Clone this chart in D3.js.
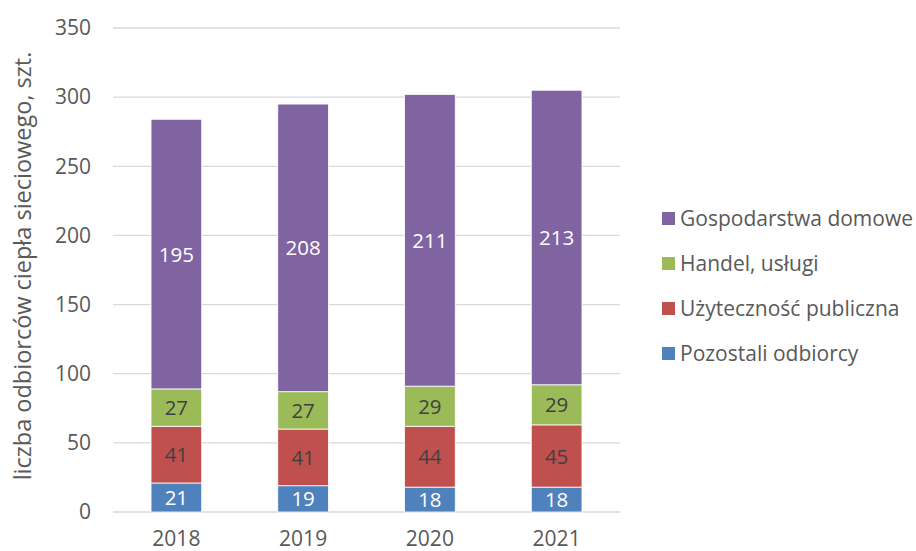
<!DOCTYPE html>
<html>
<head>
<meta charset="utf-8">
<script src="https://cdn.jsdelivr.net/npm/d3@7"></script>
<style>
  body { margin: 0; background: #fff; }
  text { font-family: "Open Sans", "Noto Sans", sans-serif; fill: #595959; }
</style>
</head>
<body>
<div id="chart"></div>
<script>
const years = ["2018", "2019", "2020", "2021"];
const seriesNames = ["Pozostali odbiorcy", "Użyteczność publiczna", "Handel, usługi", "Gospodarstwa domowe"];
const seriesColors = ["#4f81bd", "#c0504d", "#9bbb59", "#8064a2"];
const labelColors = ["#ffffff", "#404040", "#404040", "#ffffff"];
const pozostali = [21, 19, 18, 18];
const uzytecznosc = [41, 41, 44, 45];
const handel = [27, 27, 29, 29];
const gospodarstwa = [195, 208, 211, 213];
const yTicks = [0, 50, 100, 150, 200, 250, 300, 350];

const width = 916, height = 551;
const margin = { left: 113, right: 296, top: 28, bottom: 39 };

const svg = d3.select("#chart").append("svg")
    .attr("width", width)
    .attr("height", height);

const x = d3.scaleBand().domain(years)
    .range([margin.left, width - margin.right])
    .paddingInner(0.6).paddingOuter(0.3);
const y = d3.scaleLinear().domain([0, 350])
    .range([height - margin.bottom, margin.top]);

// gridlines
svg.append("g").selectAll("line").data(yTicks).join("line")
    .attr("x1", margin.left).attr("x2", width - margin.right)
    .attr("y1", d => y(d)).attr("y2", d => y(d))
    .attr("stroke", "#d9d9d9").attr("stroke-width", 1.3);

// y tick labels
svg.append("g").selectAll("text").data(yTicks).join("text")
    .attr("x", 91).attr("y", d => y(d))
    .attr("dy", "0.35em").attr("text-anchor", "end")
    .style("font-size", "21px")
    .text(d => d);

// x labels
svg.append("g").selectAll("text").data(years).join("text")
    .attr("x", d => x(d) + x.bandwidth() / 2).attr("y", 546)
    .attr("text-anchor", "middle")
    .style("font-size", "21px")
    .text(d => d);

const rows = years.map((yr, i) => ({
    year: yr,
    "Pozostali odbiorcy": pozostali[i],
    "Użyteczność publiczna": uzytecznosc[i],
    "Handel, usługi": handel[i],
    "Gospodarstwa domowe": gospodarstwa[i]
}));
const stacked = d3.stack().keys(seriesNames)(rows);

const layers = svg.append("g").selectAll("g").data(stacked).join("g")
    .attr("fill", (d, i) => seriesColors[i]);

layers.selectAll("rect").data(d => d).join("rect")
    .attr("x", d => x(d.data.year))
    .attr("width", x.bandwidth())
    .attr("y", d => y(d[1]))
    .attr("height", d => y(d[0]) - y(d[1]))
    .attr("stroke", "#fff").attr("stroke-width", 0.8);

layers.each(function (s, i) {
    d3.select(this).selectAll("text.val").data(s).join("text")
        .attr("class", "val")
        .attr("x", d => x(d.data.year) + x.bandwidth() / 2)
        .attr("y", d => y((d[0] + d[1]) / 2))
        .attr("dy", "0.37em").attr("text-anchor", "middle")
        .style("font-size", "20.5px")
        .style("fill", labelColors[i])
        .text(d => d[1] - d[0]);
});

// y axis title
svg.append("text")
    .attr("transform", "translate(31, 266) rotate(-90)")
    .attr("text-anchor", "middle")
    .style("font-size", "23.5px")
    .text("liczba odbiorców ciepła sieciowego, szt.");

// legend (top to bottom: reverse stack order)
const legendItems = seriesNames.map((n, i) => ({ name: n, color: seriesColors[i] })).reverse();
const legend = svg.append("g").selectAll("g").data(legendItems).join("g")
    .attr("transform", (d, i) => `translate(662, ${219 + i * 45})`);
legend.append("rect")
    .attr("x", 0).attr("y", -7).attr("width", 13).attr("height", 13)
    .attr("fill", d => d.color);
legend.append("text")
    .attr("x", 18).attr("y", 0).attr("dy", "0.35em")
    .style("font-size", "21px")
    .text(d => d.name);
</script>
</body>
</html>
